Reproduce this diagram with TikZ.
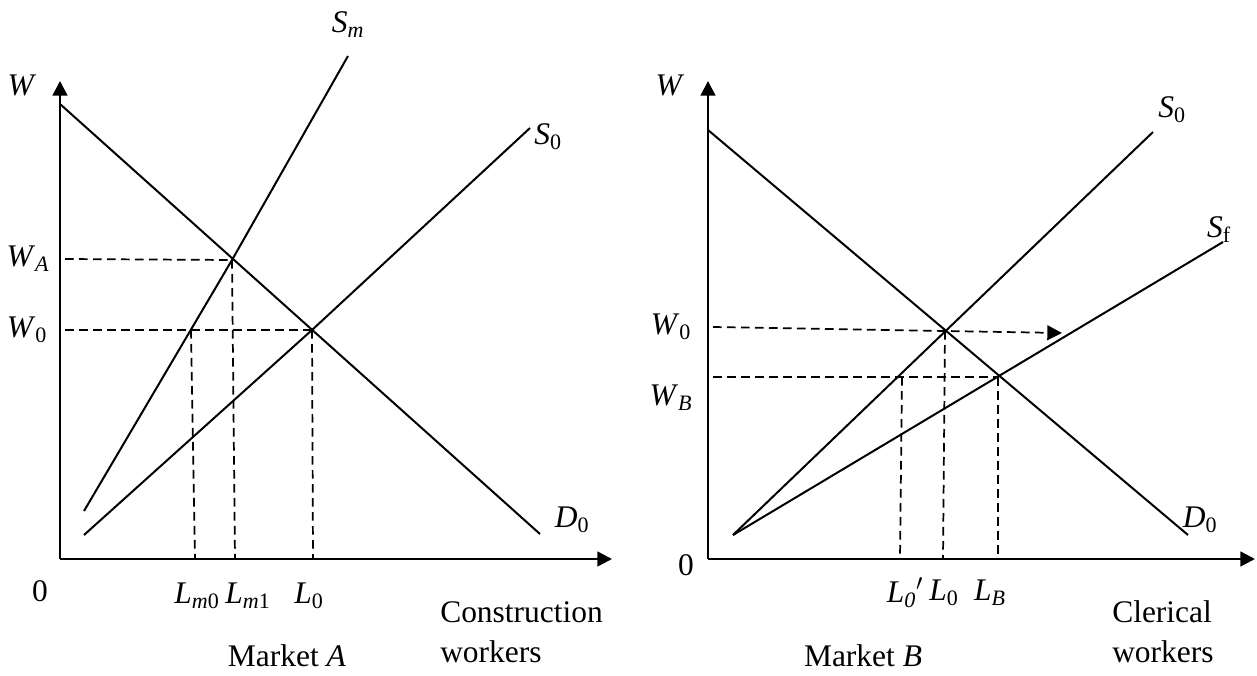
\documentclass[tikz,border=0pt]{standalone}
\usepackage{fontspec}
\setmainfont{Liberation Serif}
\usetikzlibrary{arrows.meta, positioning}

\tikzset{
    axis/.style={line width=1.9pt, -{Triangle[length=11pt,width=11pt]}},
    curve/.style={line width=1.5pt},
    guide/.style={line width=1.3pt, dash pattern=on 6.5pt off 4pt},
    lbl/.style={inner sep=0pt, font=\fontsize{23.6}{30}\selectfont},
}
\newcommand{\ilab}[2]{\textit{#1}\textsubscript{#2}}

\begin{document}
\begin{tikzpicture}[x=0.75pt, y=-0.75pt]
    \useasboundingbox (0,0) rectangle (1257,675);

    % Market A
    \coordinate (oA) at (60,559);
    \coordinate (yA) at (60,81);
    \coordinate (xA) at (612,559);
    \coordinate (dAtop) at (60,104);
    \coordinate (dAbot) at (540,534);
    \coordinate (smbot) at (84,511);
    \coordinate (smtop) at (348,56);
    \coordinate (sAbot) at (84,535);
    \coordinate (sAtop) at (530,128);
    \coordinate (eA) at (232,260);
    \coordinate (eA0) at (312,330);
    \coordinate (eAm) at (191,330);

    \draw[axis] (oA) -- (yA);
    \draw[axis] (oA) -- (xA);
    \draw[curve] (dAtop) -- (dAbot);
    \draw[curve] (smbot) -- (eA) -- (smtop);
    \draw[curve] (sAbot) -- (eA0) -- (sAtop);

    \draw[guide] (65,259) -- (eA);
    \draw[guide] (65,330) -- (eA0);
    \draw[guide] (eAm) -- (195,559);
    \draw[guide] (eA) -- (235,559);
    \draw[guide] (eA0) -- (313,559);

    \node[lbl] (wA) at (22,85) {\textit{W}};
    \node[lbl] (wAA) at (28,259) {\ilab{W}{\textit{A}}};
    \node[lbl] (wA0) at (27,330) {\ilab{W}{0}};
    \node[lbl] (zeroA) at (40,591) {0};
    \node[lbl] (smlab) at (348,25) {\ilab{S}{\textit{m}}};
    \node[lbl] (sAlab) at (548,137) {\ilab{S}{0}};
    \node[lbl] (dAlab) at (572,520) {\ilab{D}{0}};
    \node[lbl] (lm0) at (197,596) {\ilab{L}{\textit{m}0}};
    \node[lbl] (lm1) at (248,596) {\ilab{L}{\textit{m}1}};
    \node[lbl] (lA0) at (309,596) {\ilab{L}{0}};
    \node[lbl, align=left, anchor=west] (qA) at (440,632) {Construction\\workers};
    \node[lbl] (mA) at (287,656) {Market \textit{A}};

    % Market B
    \coordinate (oB) at (708,559);
    \coordinate (yB) at (708,81);
    \coordinate (xB) at (1255,559);
    \coordinate (dBtop) at (708,130);
    \coordinate (dBbot) at (1188,535);
    \coordinate (sBbot) at (733,535);
    \coordinate (sBtop) at (1153,132);
    \coordinate (sftop) at (1223,242);
    \coordinate (eB) at (945,331);
    \coordinate (eBf) at (998,377);
    \coordinate (eB0) at (902,377);
    \coordinate (arrB) at (1062,333);

    \draw[axis] (oB) -- (yB);
    \draw[axis] (oB) -- (xB);
    \draw[curve] (dBtop) -- (dBbot);
    \draw[curve] (sBbot) -- (sBtop);
    \draw[curve] (sBbot) -- (sftop);

    \draw[guide, -{Triangle[length=11pt,width=11pt]}] (713,327) -- (arrB);
    \draw[guide] (713,377) -- (eBf);
    \draw[guide] (eB0) -- (900,559);
    \draw[guide] (eB) -- (943,559);
    \draw[guide] (eBf) -- (998,559);

    \node[lbl] (wB) at (670,85) {\textit{W}};
    \node[lbl] (wB0) at (671,327) {\ilab{W}{0}};
    \node[lbl] (wBB) at (671,398) {\ilab{W}{\textit{B}}};
    \node[lbl] (zeroB) at (686,565) {0};
    \node[lbl] (sBlab) at (1172,110) {\ilab{S}{0}};
    \node[lbl] (sflab) at (1219,230) {\ilab{S}{f}};
    \node[lbl] (dBlab) at (1200,520) {\ilab{D}{0}};
    \node[lbl] (lBp) at (905,593) {\ilab{L}{\textit{0}}$'$};
    \node[lbl] (lB0) at (944,593) {\ilab{L}{0}};
    \node[lbl] (lBB) at (990,593) {\ilab{L}{\textit{B}}};
    \node[lbl, align=left, anchor=west] (qB) at (1112,632) {Clerical\\workers};
    \node[lbl] (mB) at (863,656) {Market \textit{B}};
\end{tikzpicture}
\end{document}
